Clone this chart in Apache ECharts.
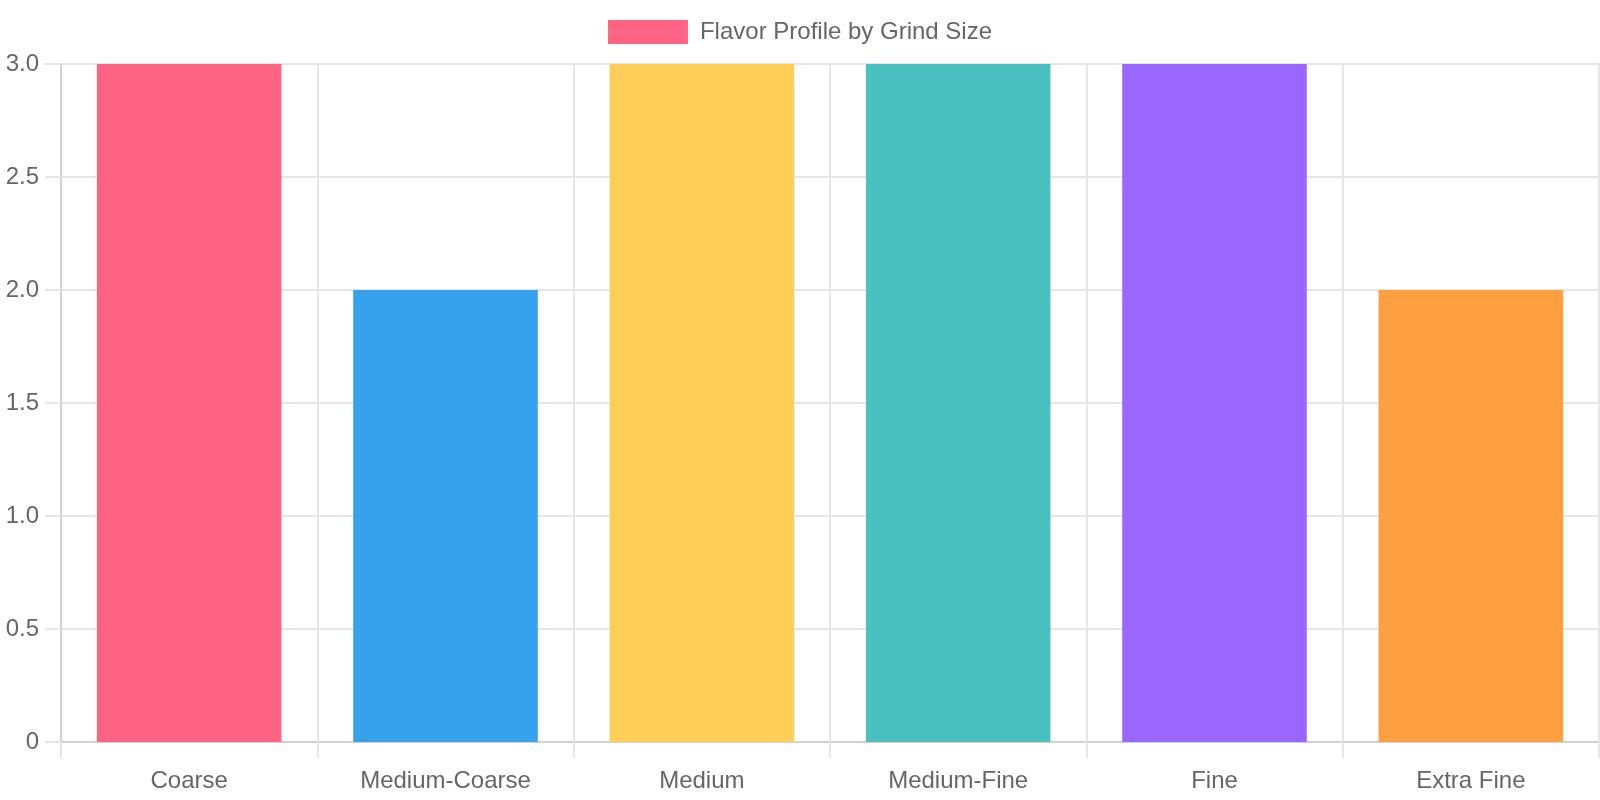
<!DOCTYPE html>
<html>
<head>
<meta charset="utf-8">
<title>Flavor Profile by Grind Size</title>
<script src="https://cdn.jsdelivr.net/npm/echarts@6/dist/echarts.min.js"></script>
<style>
    html, body { margin: 0; padding: 0; background: #fff; }
    #chart { width: 1600px; height: 800px; }
</style>
</head>
<body>
<div id="chart"></div>
<script>
// 数据
var categories = ['Coarse', 'Medium-Coarse', 'Medium', 'Medium-Fine', 'Fine', 'Extra Fine'];
var values = [3, 2, 3, 3, 3, 2];
var barColors = ['#FF6384', '#36A2EB', '#FFCE56', '#4BC0C0', '#9966FF', '#FF9F40'];
var seriesName = 'Flavor Profile by Grind Size';

var gridColor = '#e6e6e6';
var axisColor = '#d2d2d2';
var textColor = '#666';
var font = '"Liberation Sans", Arial, sans-serif';

var barData = [];
for (var i = 0; i < values.length; i++) {
    barData.push({
        value: values[i],
        itemStyle: { color: barColors[i] }
    });
}

var chart = echarts.init(document.getElementById('chart'));
chart.setOption({
    animation: false,
    textStyle: { fontFamily: font },
    legend: {
        top: 15,
        left: 'center',
        icon: 'rect',
        itemWidth: 80,
        itemHeight: 24,
        textStyle: { fontSize: 24, color: textColor, fontFamily: font, padding: [0, 0, 0, 7] },
        data: [seriesName]
    },
    grid: {
        left: 61,
        right: 1,
        top: 64,
        bottom: 58,
        containLabel: false
    },
    xAxis: {
        type: 'category',
        data: categories,
        boundaryGap: true,
        axisLine: { show: true, lineStyle: { color: axisColor, width: 2 } },
        axisTick: { show: true, length: 16, lineStyle: { color: gridColor, width: 2 } },
        splitLine: { show: true, interval: 0, lineStyle: { color: gridColor, width: 2 } },
        axisLabel: { fontSize: 24, color: textColor, margin: 27, interval: 0, fontFamily: font }
    },
    yAxis: {
        type: 'value',
        min: 0,
        max: 3,
        interval: 0.5,
        axisLine: { show: true, lineStyle: { color: axisColor, width: 2 } },
        axisTick: { show: true, length: 16, lineStyle: { color: gridColor, width: 2 } },
        splitLine: { show: true, lineStyle: { color: gridColor, width: 2 } },
        axisLabel: {
            fontSize: 24,
            color: textColor,
            margin: 22,
            fontFamily: font,
            formatter: function (v) {
                return v === 0 ? '0' : v.toFixed(1);
            }
        }
    },
    series: [
        {
            name: seriesName,
            type: 'bar',    // 柱形图
            barWidth: '72%',
            itemStyle: { color: barColors[0] },
            data: barData
        }
    ]
});
</script>
</body>
</html>
